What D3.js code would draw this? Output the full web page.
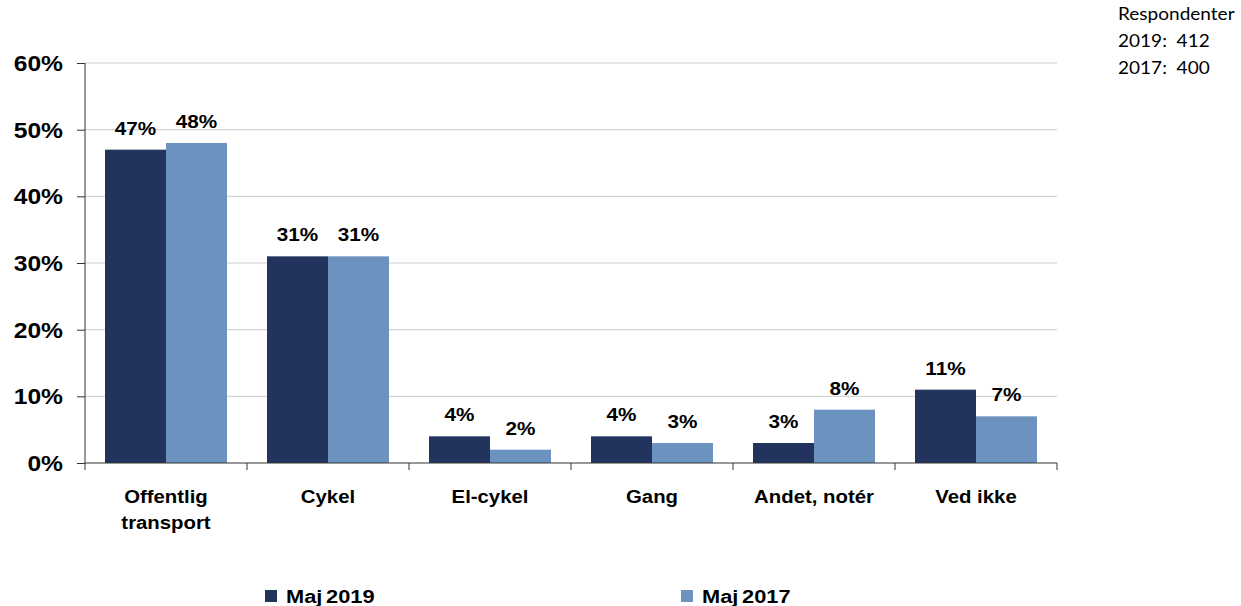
<!DOCTYPE html>
<html><head><meta charset="utf-8">
<script src="https://cdn.jsdelivr.net/npm/d3@7"></script>
<style>body{margin:0;background:#fff}svg{display:block}</style>
</head><body>
<script>
const categories = [["Offentlig","transport"],["Cykel"],["El-cykel"],["Gang"],["Andet, notér"],["Ved ikke"]];
const seriesNames = ["Maj 2019","Maj 2017"];
const values2019 = [47,31,4,4,3,11];
const values2017 = [48,31,2,3,8,7];
const yTicks = [0,10,20,30,40,50,60];
const noteLines = ["Respondenter","2019:  412","2017:  400"];
const colors = ["#22335E","#6C93C0"];

(function(){
const W=1241,H=606;
const svg=d3.select("body").append("svg").attr("width",W).attr("height",H);
const pL=85,pR=1057,pT=63,pB=463;
const x=d3.scaleBand().domain(d3.range(categories.length)).range([pL,pR]).paddingInner(0).paddingOuter(0);
const y=d3.scaleLinear().domain([0,60]).range([pB,pT]);
const font="'Liberation Sans', Arial, sans-serif";

function stext(parent,tx,ty,str,size,sx,anchor,fam,weight){
  const g=parent.append("g").attr("transform",`translate(${tx},${ty}) scale(${sx},1)`);
  return g.append("text").attr("x",0).attr("y",0).attr("text-anchor",anchor||"start")
    .attr("font-family",fam||font).attr("font-size",size).attr("font-weight",weight||"bold")
    .attr("fill","#000").style("white-space","pre").text(str);
}

// gridlines
svg.append("g").selectAll("line").data(yTicks.filter(d=>d>0)).join("line")
  .attr("x1",pL).attr("x2",pR).attr("y1",d=>y(d)).attr("y2",d=>y(d))
  .attr("stroke","#cccccc").attr("stroke-width",1);

// y axis
const ya=svg.append("g").attr("transform",`translate(${pL},0)`)
  .call(d3.axisLeft(y).tickValues(yTicks).tickFormat("").tickSize(8));
ya.select(".domain").attr("stroke","#333").attr("d",`M0,${pT}V${pB}`);
ya.selectAll(".tick line").attr("stroke","#333");
yTicks.forEach(t=>stext(svg,63,y(t)+8,t+"%",22,1.12,"end"));

// bars
const pad=20;
const bw=(x.bandwidth()-2*pad)/2;
const series=[values2019,values2017];
series.forEach((vals,si)=>{
  const g=svg.append("g");
  g.selectAll("rect").data(vals).join("rect")
    .attr("x",(d,i)=>x(i)+pad+si*bw).attr("width",bw)
    .attr("y",d=>y(d)).attr("height",d=>pB-y(d)).attr("fill",colors[si]);
  vals.forEach((d,i)=>stext(g,x(i)+pad+si*bw+bw/2,y(d)-15,d+"%",18,1.15,"middle"));
});

// x axis
const xa=svg.append("g");
xa.append("line").attr("x1",pL).attr("x2",pR).attr("y1",pB).attr("y2",pB).attr("stroke","#333");
xa.selectAll("line.t").data(d3.range(categories.length+1)).join("line").attr("class","t")
  .attr("x1",i=>pL+i*x.bandwidth()).attr("x2",i=>pL+i*x.bandwidth()).attr("y1",pB).attr("y2",pB+7).attr("stroke","#333");
categories.forEach((lines,i)=>lines.forEach((l,j)=>stext(xa,x(i)+x.bandwidth()/2,pB+40+j*26,l,18.5,1.1,"middle")));

// legend
const legX=[265,681];
seriesNames.forEach((n,i)=>{
  svg.append("rect").attr("x",legX[i]).attr("y",590).attr("width",12).attr("height",12).attr("fill",colors[i]);
  stext(svg,legX[i]+21,603,n,18.5,1.18,"start").attr("word-spacing","-2");
});

// note
noteLines.forEach((l,i)=>stext(svg,1118,20+i*27,l,17,1.12,"start","Lato, 'Open Sans', sans-serif","normal"));
})();
</script>
</body></html>
